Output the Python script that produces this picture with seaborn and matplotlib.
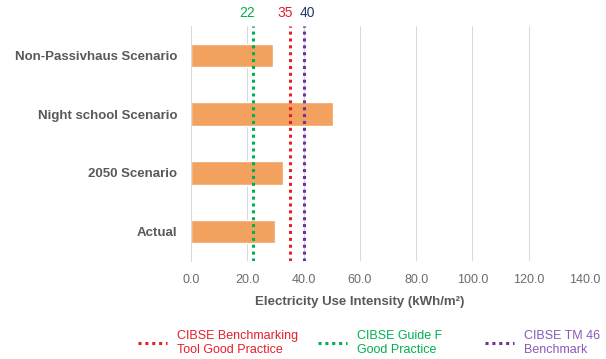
import numpy as np
import pandas as pd
import seaborn as sns
import matplotlib.pyplot as plt
from matplotlib.lines import Line2D

# Electricity use intensity per scenario (kWh/m²)
scenarios = ["Non-Passivhaus Scenario", "Night school Scenario", "2050 Scenario", "Actual"]
eui = [29.0, 50.3, 32.6, 30.0]

# Benchmarks drawn as dotted reference lines
bench_values = [35, 22, 40]
bench_names = ["CIBSE Benchmarking\nTool Good Practice",
               "CIBSE Guide F\nGood Practice",
               "CIBSE TM 46\nBenchmark"]
bench_colors = ["#E3202C", "#00B050", "#7030A0"]
bench_label_colors = ["#E3202C", "#00B050", "#203864"]
bench_legend_colors = ["#E3202C", "#00B050", "#8A5AB8"]

x_ticks = [0, 20, 40, 60, 80, 100, 120, 140]
x_tick_labels = [f"{t:.1f}" for t in x_ticks]

sns.set_theme(style="white")
plt.rcParams['font.family'] = ['Liberation Sans', 'DejaVu Sans']

TEXT_GREY = "#595959"
GRID_GREY = "#D9D9D9"
BAR_COLOR = "#F2A15F"

W, H = 606, 359
fig = plt.figure(figsize=(W / 100, H / 100), dpi=100)
ax = fig.add_axes([191 / W, 1 - 261 / H, 394 / W, 235 / H])

df = pd.DataFrame({"scenario": scenarios, "eui": eui})
sns.barplot(data=df, x="eui", y="scenario", color=BAR_COLOR, saturation=1,
            width=0.4, ax=ax, zorder=2)

ax.set_xlim(0, 140)
ax.set_ylim(3.5, -0.5)
ax.set_xticks(x_ticks)
ax.set_xticklabels(x_tick_labels)
ax.grid(axis="x", color=GRID_GREY, linewidth=0.75, zorder=0)
ax.grid(axis="y", visible=False)
for side in ["top", "right", "bottom"]:
    ax.spines[side].set_visible(False)
ax.spines["left"].set_color(GRID_GREY)
ax.spines["left"].set_linewidth(0.75)
ax.set_axisbelow(True)

ax.tick_params(axis="x", length=0, pad=9.5, labelsize=9, labelcolor="#6B6B6B")
ax.tick_params(axis="y", length=0, pad=10, labelsize=9.5, labelcolor=TEXT_GREY)
for lbl in ax.get_yticklabels():
    lbl.set_fontweight("bold")
ax.set_ylabel("")

ax.set_xlabel("Electricity Use Intensity (kWh/m²)", fontsize=9.5,
              fontweight="bold", color=TEXT_GREY)
ax.xaxis.label.set_va("center")
ax.xaxis.set_label_coords((360 - 191) / 394, -(302 - 261) / 235)

# Benchmark reference lines with value labels above the plot
dot_style = (0, (1, 1.25))
label_dx = {22: -4.3, 35: -3.2, 40: 2.9}
for v, c, lc in zip(bench_values, bench_colors, bench_label_colors):
    ax.axvline(v, color=c, linewidth=2.2, linestyle=dot_style,
               dash_capstyle="butt", zorder=4)
    ax.annotate(str(v), xy=(v, 1), xycoords=("data", "axes fraction"),
                xytext=(label_dx[v], 9.5), textcoords="offset points",
                ha="center", va="center", fontsize=10, color=lc,
                annotation_clip=False)

# One legend entry per benchmark along the bottom
legend_x = [138, 318, 485]
for name, c, tc, lx in zip(bench_names, bench_colors, bench_legend_colors, legend_x):
    handle = Line2D([], [], color=c, linewidth=2.2, linestyle=dot_style,
                    dash_capstyle="butt")
    fig.legend([handle], [name], loc="center left",
               bbox_to_anchor=(lx / W, 1 - 343 / H), frameon=False,
               borderpad=0, borderaxespad=0, handlelength=2.3,
               handletextpad=0.8, fontsize=9, labelcolor=tc)

fig.savefig("out.png", dpi=100)
